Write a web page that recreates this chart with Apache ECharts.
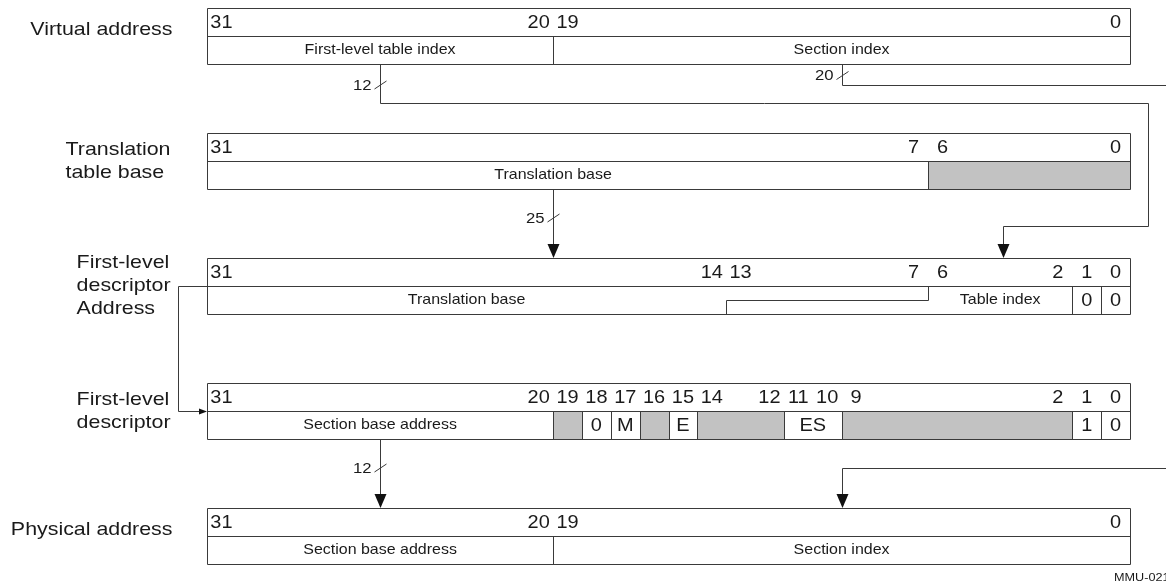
<!DOCTYPE html>
<html><head><meta charset="utf-8">
<script src="https://cdn.jsdelivr.net/npm/echarts@6/dist/echarts.min.js"></script>
<style>html,body{margin:0;padding:0;background:#fff}#c{width:1166px;height:588px}</style>
</head><body><div id="c"></div>
<script>
// ---------- data ----------
const rowTitles = ["Virtual address", "Translation\ntable base", "First-level\ndescriptor\nAddress", "First-level\ndescriptor", "Physical address"];
const bitLabels = [
  [31, 20, 19, 0],
  [31, 7, 6, 0],
  [31, 14, 13, 7, 6, 2, 1, 0],
  [31, 20, 19, 18, 17, 16, 15, 14, 12, 11, 10, 9, 2, 1, 0],
  [31, 20, 19, 0]
];
// [row, hiBit, loBit, label, shaded, leftDivider]
const fields = [
  [0, 31, 20, "First-level table index", 0, 0],
  [0, 19, 0, "Section index", 0, 1],
  [1, 31, 8, "Translation base", 0, 0],
  [1, 6, 0, "", 1, 1],
  [2, 31, 14, "Translation base", 0, 0],
  [2, 6, 2, "Table index", 0, 0],
  [2, 1, 1, "0", 0, 1],
  [2, 0, 0, "0", 0, 1],
  [3, 31, 20, "Section base address", 0, 0],
  [3, 19, 19, "", 1, 1],
  [3, 18, 18, "0", 0, 1],
  [3, 17, 17, "M", 0, 1],
  [3, 16, 16, "", 1, 1],
  [3, 15, 15, "E", 0, 1],
  [3, 14, 12, "", 1, 1],
  [3, 11, 10, "ES", 0, 1],
  [3, 9, 2, "", 1, 1],
  [3, 1, 1, "1", 0, 1],
  [3, 0, 0, "0", 0, 1],
  [4, 31, 20, "Section base address", 0, 0],
  [4, 19, 0, "Section index", 0, 1]
];
// wires: paths in (bit boundary, row units)
const wirePaths = [
  [[26, 0.448], [26, 0.76], [-0.62, 0.76], [-0.62, 1.744], [4.4, 1.744], [4.4, 2]],
  [[10, 0.448], [10, 0.616], [-1.4, 0.616]],
  [[20, 1.448], [20, 2]],
  [[-1.4, 3.68], [10, 3.68], [10, 4]],
  [[26, 3.448], [26, 4]],
  [[7, 2.224], [7, 2.336], [14, 2.336], [14, 2.448]],
  [[32, 2.224], [33, 2.224], [33, 3.224], [32, 3.224]]
];
const wireBus = ["12", "20", "25", "", "12", "", ""];
const wireTicks = [[26, 0.616], [10, 0.54], [20, 1.68], null, [26, 3.68], null, null];
const wireArrow = [1, 0, 1, 1, 1, 0, 1];
const figureId = "MMU-021";

// ---------- style ----------
const FONT = '"Liberation Sans", Arial, Helvetica, sans-serif';
const LINE = '#3a3a3a';
const TEXT = '#1a1a1a';
const GRAY = '#c2c2c2';
const SX = 1.15;
const ROW_H = 0.448, HALF = 0.224;
const BITW = 923 / 32;

const mctx = document.createElement('canvas').getContext('2d');
function textW(s, size) {
  mctx.font = size + 'px ' + FONT;
  return Math.max.apply(null, s.split('\n').map(l => mctx.measureText(l).width));
}
const snap = v => Math.round(v) + 0.5;
function P(api, x, y) { const p = api.coord([x, y]); return [snap(p[0]), snap(p[1])]; }
function label(x, y, s, size, align, extra, sx) {
  return { type: 'text', x: x, y: y, scaleX: sx || SX, silent: true,
    style: Object.assign({ text: s, x: 0, y: 0, fill: TEXT, fontSize: size, fontFamily: FONT,
      align: align || 'center', verticalAlign: 'middle' }, extra || {}) };
}
const lineStyle = { stroke: LINE, lineWidth: 1, fill: null };

const chart = echarts.init(document.getElementById('c'), null, { renderer: 'canvas' });

const option = {
  animation: false,
  grid: { left: 0, right: 0, top: 0, bottom: 0 },
  xAxis: { type: 'value', min: -36 / BITW, max: 32 + 207 / BITW, inverse: true, show: false },
  yAxis: { type: 'value', min: -0.064, max: 4.64, inverse: true, show: false },
  graphic: [{ type: 'text', left: 1114, top: 572, scaleX: SX,
    style: { text: figureId, fill: TEXT, fontSize: 11, fontFamily: FONT } }],
  series: [
    { // shaded fields
      type: 'custom', z: 1, silent: true, clip: false,
      data: fields.map(f => [f[1], f[0]]),
      renderItem: function (params, api) {
        const f = fields[params.dataIndex];
        if (!f[4]) return { type: 'group', children: [] };
        const a = api.coord([f[1] + 1, f[0] + HALF]), b = api.coord([f[2], f[0] + ROW_H]);
        return { type: 'rect', shape: { x: snap(a[0]), y: snap(a[1]), width: snap(b[0]) - snap(a[0]), height: snap(b[1]) - snap(a[1]) },
          style: { fill: GRAY } };
      }
    },
    { // register frames + titles
      type: 'custom', z: 2, silent: true, clip: false,
      data: rowTitles.map((t, i) => [32, i]),
      renderItem: function (params, api) {
        const r = params.dataIndex;
        const a = P(api, 32, r), b = P(api, 0, r + ROW_H), m = P(api, 0, r + HALF);
        const title = rowTitles[r];
        const multi = title.indexOf('\n') >= 0;
        const size = 18.6;
        const w = textW(title, size) * SX;
        const ty = api.coord([0, r + (multi ? 0.226 : 0.176)])[1];
        return { type: 'group', children: [
          { type: 'rect', shape: { x: a[0], y: a[1], width: b[0] - a[0], height: b[1] - a[1] }, style: lineStyle },
          { type: 'line', shape: { x1: a[0], y1: m[1], x2: b[0], y2: m[1] }, style: lineStyle },
          label(a[0] - (multi ? 37 : 35) - w, ty, title, size, 'left', { lineHeight: 23 })
        ] };
      }
    },
    { // field dividers + labels
      type: 'custom', z: 3, silent: true, clip: false,
      data: fields.map(f => [f[1], f[0]]),
      renderItem: function (params, api) {
        const f = fields[params.dataIndex];
        const r = f[0];
        const kids = [];
        if (f[5]) {
          const a = P(api, f[1] + 1, r + HALF), b = P(api, f[1] + 1, r + ROW_H);
          kids.push({ type: 'line', shape: { x1: a[0], y1: a[1], x2: b[0], y2: b[1] }, style: lineStyle });
        }
        if (f[3]) {
          const c = api.coord([(f[1] + 1 + f[2]) / 2, r + (HALF + ROW_H) / 2]);
          const big = f[3].length <= 2;
          kids.push(big ? label(c[0], c[1] + 0.5, f[3], 19, 'center', null, 1.05)
                        : label(c[0], c[1] + 0.5, f[3], 13.9));
        }
        return { type: 'group', children: kids };
      }
    },
    { // bit numbers
      type: 'custom', z: 3, silent: true, clip: false,
      data: [].concat.apply([], bitLabels.map((bits, r) => bits.map(b => [b, r]))),
      renderItem: function (params, api) {
        const b = api.value(0), r = api.value(1);
        const c = api.coord([b + 0.5, r + HALF / 2]);
        return label(c[0], c[1] + 0.5, String(b), 19, 'center', null, 1.05);
      }
    },
    { // wires
      type: 'custom', z: 4, silent: true, clip: false,
      data: wirePaths.map(p => p[0]),
      renderItem: function (params, api) {
        const i = params.dataIndex;
        const pts = wirePaths[i].map(p => P(api, p[0], p[1]));
        const kids = [];
        if (wireArrow[i]) {
          const n = pts.length;
          const e = pts[n - 1], s = pts[n - 2];
          const dx = Math.sign(e[0] - s[0]), dy = Math.sign(e[1] - s[1]);
          const L = dy !== 0 ? 14 : 8, H = dy !== 0 ? 6 : 3;
          const tip = [e[0] - 0.5 * dx, e[1] - 0.5 * dy];
          const base = [tip[0] - dx * L, tip[1] - dy * L];
          pts[n - 1] = [snap(base[0] - 0.5), snap(base[1] - 0.5)];
          if (dx === 0) pts[n - 1][0] = e[0];
          if (dy === 0) pts[n - 1][1] = e[1];
          const tri = dy !== 0
            ? [[tip[0], tip[1]], [tip[0] - H, base[1]], [tip[0] + H, base[1]]]
            : [[tip[0], tip[1]], [base[0], tip[1] - H], [base[0], tip[1] + H]];
          kids.push({ type: 'polygon', shape: { points: tri }, style: { fill: '#111', stroke: null } });
        }
        kids.unshift({ type: 'polyline', shape: { points: pts }, style: lineStyle });
        const t = wireTicks[i];
        if (t) {
          const c = api.coord([t[0], t[1]]);
          const x = snap(c[0]), y = c[1];
          kids.push({ type: 'line', shape: { x1: x - 6, y1: y + 4, x2: x + 6, y2: y - 4 }, style: lineStyle });
          kids.push(label(x - 9, y + 0.5, wireBus[i], 14.5, 'right'));
        }
        return { type: 'group', children: kids };
      }
    }
  ]
};
chart.setOption(option);
</script></body></html>
